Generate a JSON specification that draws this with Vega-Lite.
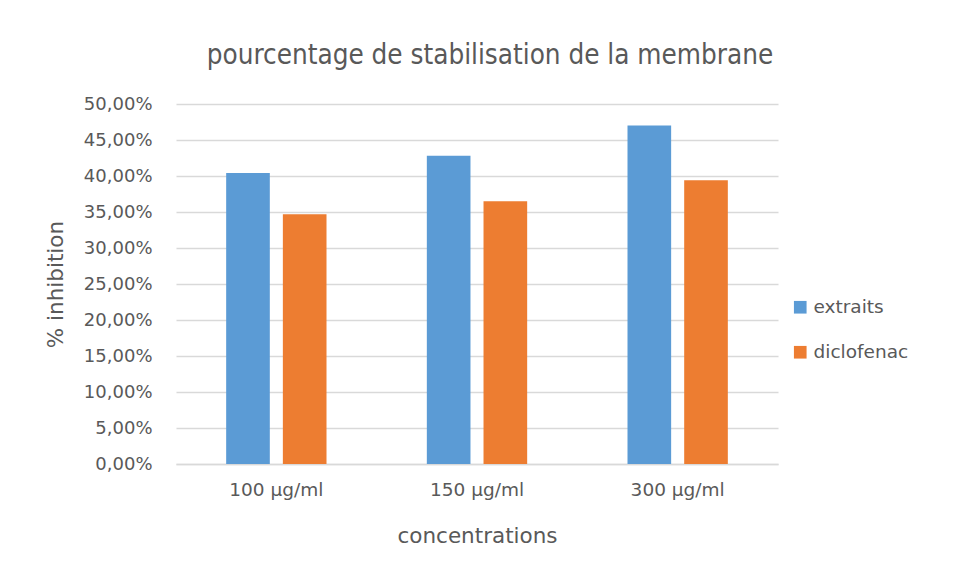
{
  "$schema": "https://vega.github.io/schema/vega-lite/v6.json",
  "width": 602,
  "height": 360,
  "autosize": {"type": "none"},
  "padding": {"left": 176, "top": 104, "right": 178, "bottom": 113},
  "background": "white",
  "title": {
    "text": "pourcentage de stabilisation de la membrane",
    "font": "DejaVu Sans Condensed",
    "fontSize": 27.6,
    "fontWeight": "normal",
    "color": "#595959",
    "anchor": "middle",
    "dx": 13,
    "offset": 25
  },
  "data": {
    "values": [
      {"concentration": "100 µg/ml", "serie": "extraits", "valeur": 0.404},
      {"concentration": "100 µg/ml", "serie": "diclofenac", "valeur": 0.347},
      {"concentration": "150 µg/ml", "serie": "extraits", "valeur": 0.428},
      {"concentration": "150 µg/ml", "serie": "diclofenac", "valeur": 0.365},
      {"concentration": "300 µg/ml", "serie": "extraits", "valeur": 0.470},
      {"concentration": "300 µg/ml", "serie": "diclofenac", "valeur": 0.394}
    ]
  },
  "mark": {"type": "bar"},
  "encoding": {
    "x": {
      "field": "concentration",
      "type": "nominal",
      "sort": ["100 µg/ml", "150 µg/ml", "300 µg/ml"],
      "scale": {"paddingInner": 0.5, "paddingOuter": 0.25},
      "axis": {
        "title": "concentrations",
        "labelAngle": 0,
        "labelFont": "DejaVu Sans",
        "labelFontSize": 18.5,
        "labelColor": "#595959",
        "labelPadding": 16,
        "titleFont": "DejaVu Sans",
        "titleFontSize": 21.5,
        "titleFontWeight": "normal",
        "titleColor": "#595959",
        "titlePadding": 27,
        "ticks": false,
        "domainColor": "#d9d9d9",
        "domainWidth": 1.5
      }
    },
    "xOffset": {
      "field": "serie",
      "type": "nominal",
      "sort": ["extraits", "diclofenac"],
      "scale": {"paddingInner": 0.23, "paddingOuter": 0}
    },
    "y": {
      "field": "valeur",
      "type": "quantitative",
      "scale": {"domain": [0, 0.5], "nice": false},
      "axis": {
        "title": "% inhibition",
        "values": [0, 0.05, 0.1, 0.15, 0.2, 0.25, 0.3, 0.35, 0.4, 0.45, 0.5],
        "labelExpr": "replace(format(datum.value, '.2%'), '.', ',')",
        "labelFont": "DejaVu Sans",
        "labelFontSize": 18,
        "labelColor": "#595959",
        "labelPadding": 24,
        "titleFont": "DejaVu Sans",
        "titleFontSize": 21.5,
        "titleFontWeight": "normal",
        "titleColor": "#595959",
        "titlePadding": 16,
        "ticks": false,
        "domain": false,
        "gridColor": "#d9d9d9",
        "gridWidth": 1.5
      }
    },
    "color": {
      "field": "serie",
      "type": "nominal",
      "sort": ["extraits", "diclofenac"],
      "scale": {"domain": ["extraits", "diclofenac"], "range": ["#5b9bd5", "#ed7d31"]},
      "legend": {
        "title": null,
        "orient": "none",
        "legendX": 615,
        "legendY": 194,
        "symbolType": "square",
        "symbolSize": 160,
        "symbolStrokeWidth": 0,
        "rowPadding": 26,
        "labelFont": "DejaVu Sans",
        "labelFontSize": 18.5,
        "labelColor": "#595959",
        "labelOffset": 4
      }
    }
  },
  "config": {"view": {"stroke": null}}
}
